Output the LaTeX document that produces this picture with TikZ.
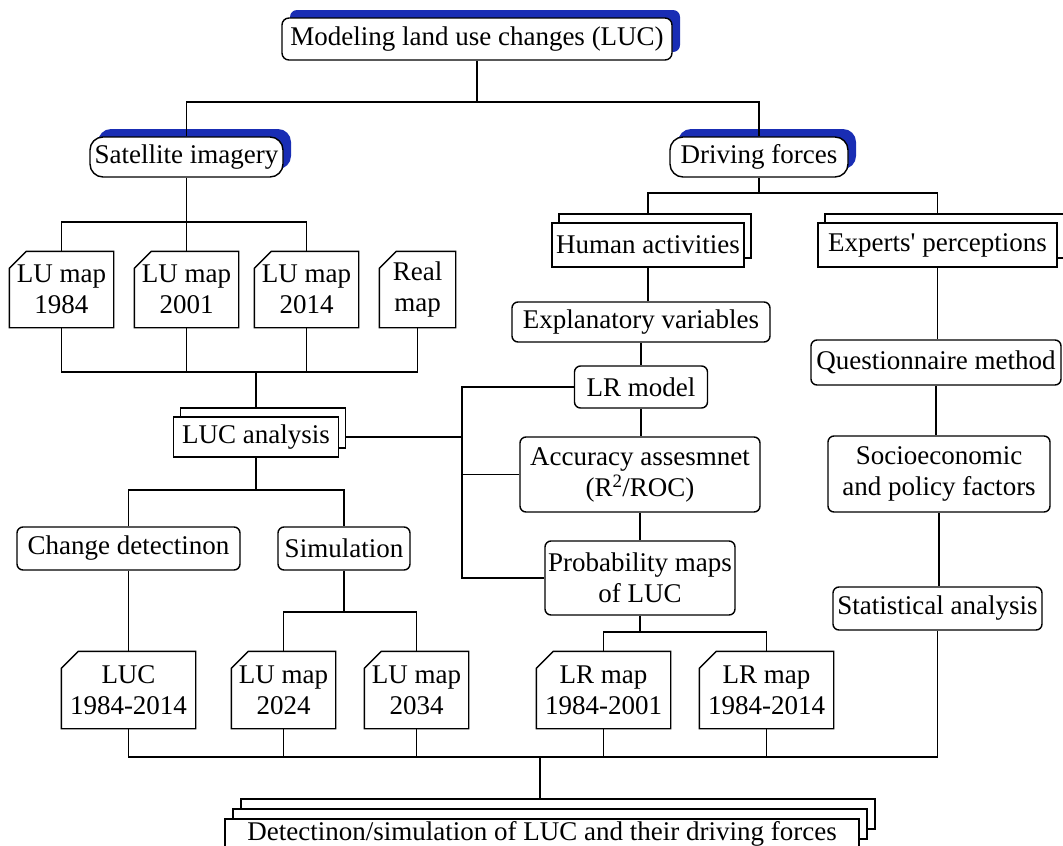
\documentclass[tikz,border=0pt]{standalone}
\usepackage{fontspec}
\setmainfont{Liberation Serif}[Ligatures=TeXOff]
\usetikzlibrary{shadows}
\definecolor{bshadow}{RGB}{25,45,180}
\begin{document}
\begin{tikzpicture}[x=1pt,y=-1pt, line width=1.4pt,
  every node/.style={font=\fontsize{27}{31}\selectfont, align=center, inner sep=0pt},
  rbox/.style={draw, fill=white, rounded corners=6pt},
  blueshad/.style={draw, fill=white, rounded corners=7pt,
     drop shadow={fill=bshadow, opacity=1, shadow xshift=8pt, shadow yshift=8pt}},
  capsule/.style={draw, fill=white, rounded corners=13pt,
     drop shadow={fill=bshadow, opacity=1, shadow xshift=8pt, shadow yshift=8pt}},
  sbox/.style={draw, fill=white, copy shadow={shadow xshift=7pt, shadow yshift=9pt}},
  dbox/.style={draw, fill=white, double copy shadow={shadow xshift=8pt, shadow yshift=10pt}},
  docbox/.style={}
]
\useasboundingbox (0,0) rectangle (1063,846);

% top level
\node[blueshad, minimum width=390pt, minimum height=42pt] (top) at (477,39) {Modeling land use changes (LUC)};
\node[capsule, minimum width=193pt, minimum height=40pt] (sat) at (186.5,157) {Satellite imagery};
\node[capsule, minimum width=178pt, minimum height=40pt] (drv) at (759,157) {Driving forces};

% LU maps
\node[docbox, minimum width=103pt, minimum height=75pt] (lu84) at (61.5,289.5) {LU map\\1984};
\node[docbox, minimum width=103pt, minimum height=75pt] (lu01) at (186.5,289.5) {LU map\\2001};
\node[docbox, minimum width=103pt, minimum height=75pt] (lu14) at (306.5,289.5) {LU map\\2014};
\node[docbox, minimum width=75pt, minimum height=75pt] (real) at (417.5,289.5) {Real\\map};

\node[sbox, minimum width=165pt, minimum height=40pt] (luca) at (256,437) {LUC analysis};
\node[rbox, minimum width=223pt, minimum height=43pt] (chg) at (128.5,548.5) {Change detectinon};
\node[rbox, minimum width=132pt, minimum height=43pt] (sim) at (344,548.5) {Simulation};

\node[docbox, minimum width=133pt, minimum height=76pt] (luc8414) at (128.5,690) {LUC\\1984-2014};
\node[docbox, minimum width=103pt, minimum height=76pt] (lu24) at (283.5,690) {LU map\\2024};
\node[docbox, minimum width=103pt, minimum height=76pt] (lu34) at (416.5,690) {LU map\\2034};

% right branch
\node[sbox, minimum width=192pt, minimum height=44pt] (hum) at (648,245) {Human activities};
\node[sbox, minimum width=239pt, minimum height=44pt] (exp) at (937.5,245) {Experts' perceptions};
\node[rbox, minimum width=258pt, minimum height=40pt] (expl) at (641,322) {Explanatory variables};
\node[rbox, minimum width=133pt, minimum height=42pt] (lrm) at (641,387) {LR model};
\node[rbox, minimum width=240pt, minimum height=75pt] (acc) at (640,474.5) {Accuracy assesmnet\\(R\textsuperscript{2}/ROC)};
\node[rbox, minimum width=190pt, minimum height=74pt] (prob) at (640,578) {Probability maps\\of LUC};
\node[docbox, minimum width=133pt, minimum height=76pt] (lr01) at (603.5,690) {LR map\\1984-2001};
\node[docbox, minimum width=133pt, minimum height=76pt] (lr14) at (766.5,690) {LR map\\1984-2014};

\node[rbox, minimum width=250pt, minimum height=45pt] (ques) at (936,362.5) {Questionnaire method};
\node[rbox, minimum width=222pt, minimum height=76pt] (soc) at (939,474) {Socioeconomic\\and policy factors};
\node[rbox, minimum width=209pt, minimum height=43pt] (stat) at (937.5,608.5) {Statistical analysis};

\node[dbox, minimum width=634pt, minimum height=30pt] (bot) at (542,834) {Detectinon/simulation of LUC and their driving forces};

% folded-corner outlines
\foreach \n in {lu84,lu01,lu14,real,luc8414,lu24,lu34,lr01,lr14}{
  \draw (\n.north west) ++(0,17) -- ++(17,-17) -- (\n.north east) -- (\n.south east) -- (\n.south west) -- cycle;
}

% junctions
\coordinate (j1) at (477,102);
\coordinate (j2) at (186.5,222);
\coordinate (j3) at (256,372);
\coordinate (j4) at (462,437);
\coordinate (j5) at (256,490);
\coordinate (j6) at (344,612);
\coordinate (j7) at (759,193);
\coordinate (j8) at (640,632);
\coordinate (jb) at (540,757);
\coordinate (lucatop) at ([yshift=9pt]luca.north);
\coordinate (humtop) at ([yshift=9pt]hum.north);
\coordinate (exptop) at ([yshift=9pt]exp.north);
\coordinate (lucaeast) at ([xshift=7pt]luca.east);
\coordinate (bottop) at ([yshift=20pt]bot.north);

% connectors
\draw (top.south) -- (j1);
\draw (sat.north) |- (j1) -| (drv.north);
\draw (sat.south) -- (j2);
\draw (lu84.north) |- (j2) -| (lu14.north);
\draw (lu01.north) -- (lu01.north |- j2);
\draw (lu84.south) |- (j3) -| (real.south);
\draw (lu01.south) -- (lu01.south |- j3);
\draw (lu14.south) -- (lu14.south |- j3);
\draw (j3) -- (lucatop);
\draw (lucaeast) -- (j4);
\draw (lrm.west) -- (lrm.west -| j4) -- (prob.west -| j4) -- (prob.west);
\draw (acc.west) -- (acc.west -| j4);
\draw (luca.south) -- (j5);
\draw (chg.north) |- (j5) -| (sim.north);
\draw (chg.south) -- (luc8414.north);
\draw (sim.south) -- (j6);
\draw (lu24.north) |- (j6) -| (lu34.north);

\draw (drv.south) -- (j7);
\draw (humtop) |- (j7) -| (exptop);
\draw (hum.south) -- (hum.south |- expl.north);
\draw (expl.south) -- (lrm.north);
\draw (lrm.south) -- (lrm.south |- acc.north);
\draw (acc.south) -- (acc.south |- prob.north);
\draw (prob.south) -- (j8);
\draw (lr01.north) |- (j8) -| (lr14.north);

\draw (exp.south) -- (exp.south |- ques.north);
\draw (ques.south) -- (ques.south |- soc.north);
\draw (soc.south) -- (soc.south |- stat.north);

\draw (luc8414.south) |- (jb) -| (stat.south);
\draw (lu24.south) -- (lu24.south |- jb);
\draw (lu34.south) -- (lu34.south |- jb);
\draw (lr01.south) -- (lr01.south |- jb);
\draw (lr14.south) -- (lr14.south |- jb);
\draw (jb) -- (jb |- bottop);
\end{tikzpicture}
\end{document}
